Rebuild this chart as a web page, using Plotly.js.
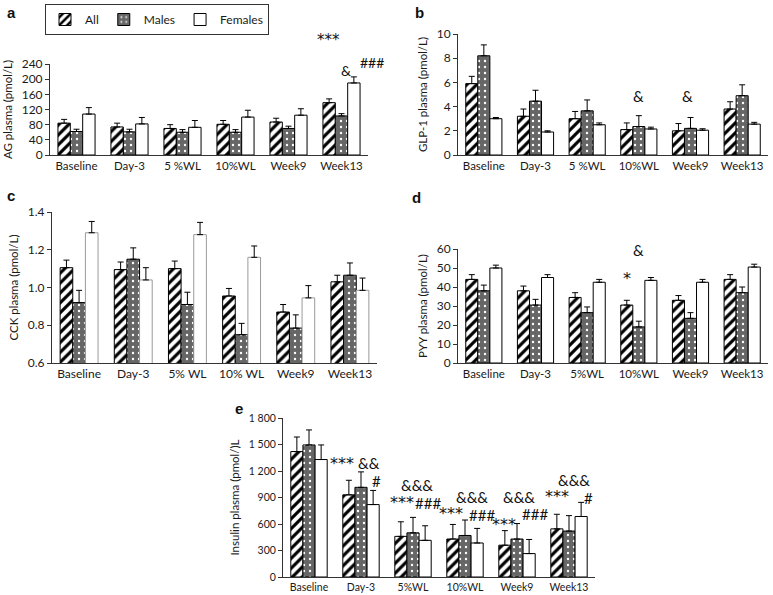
<!DOCTYPE html>
<html><head><meta charset="utf-8">
<script src="https://cdn.plot.ly/plotly-3.0.1.min.js"></script>
<style>body{margin:0;background:#fff}#chart{width:773px;height:595px}</style>
</head><body><div id="chart"></div>
<script>
// ---- data ----
const groups = ['All', 'Males', 'Females'];

const catsA = ['Baseline', 'Day-3', '5 %WL', '10%WL', 'Week9', 'Week13'];
const agAll = [84, 74, 70, 81, 87, 138];
const agAllErr = [10, 10, 10, 10, 10, 10];
const agMale = [62, 61, 60, 60, 70, 103];
const agMaleErr = [6, 7, 7, 7, 6, 6];
const agFem = [108, 82, 73, 100, 105, 190];
const agFemErr = [17, 17, 18, 18, 17, 16];

const catsB = ['Baseline', 'Day-3', '5 %WL', '10%WL', 'Week9', 'Week13'];
const glpAll = [5.9, 3.2, 3.0, 2.1, 2.0, 3.8];
const glpAllErr = [0.6, 0.6, 0.6, 0.55, 0.6, 0.6];
const glpMale = [8.2, 4.45, 3.65, 2.35, 2.2, 4.9];
const glpMaleErr = [0.9, 0.9, 0.9, 0.9, 0.9, 0.9];
const glpFem = [3.0, 1.9, 2.5, 2.15, 2.05, 2.55];
const glpFemErr = [0.1, 0.1, 0.15, 0.15, 0.12, 0.15];

const catsC = ['Baseline', 'Day-3', '5% WL', '10% WL', 'Week9', 'Week13'];
const cckAll = [1.105, 1.095, 1.10, 0.955, 0.87, 1.03];
const cckAllErr = [0.04, 0.04, 0.04, 0.04, 0.04, 0.035];
const cckMale = [0.92, 1.15, 0.91, 0.75, 0.785, 1.065];
const cckMaleErr = [0.065, 0.06, 0.065, 0.06, 0.07, 0.065];
const cckFem = [1.29, 1.04, 1.28, 1.16, 0.945, 0.985];
const cckFemErr = [0.06, 0.065, 0.065, 0.06, 0.065, 0.065];

const catsD = ['Baseline', 'Day-3', '5%WL', '10%WL', 'Week9', 'Week13'];
const pyyAll = [44, 38, 34.5, 30.5, 33, 44];
const pyyAllErr = [2.5, 2.5, 2.5, 2.5, 2.5, 2.5];
const pyyMale = [38, 30.5, 26.5, 19, 23.5, 37];
const pyyMaleErr = [3, 3, 3, 3, 3, 3];
const pyyFem = [50, 45, 42.5, 43.5, 42.5, 50.5];
const pyyFemErr = [1.5, 1.5, 1.5, 1.5, 1.5, 1.5];

const catsE = ['Baseline', 'Day-3', '5%WL', '10%WL', 'Week9', 'Week13'];
const insAll = [1420, 930, 460, 430, 360, 545];
const insAllErr = [165, 165, 165, 165, 165, 165];
const insMale = [1495, 1015, 500, 470, 430, 520];
const insMaleErr = [170, 175, 175, 175, 175, 175];
const insFem = [1330, 820, 415, 385, 265, 685];
const insFemErr = [165, 160, 165, 165, 160, 160];
const insTickVals = [0, 300, 600, 900, 1200, 1500, 1800];
const insTickText = ['0', '300', '600', '900', '1 200', '1 500', '1 800'];

// significance marks: [text, category position, y value]
const marksA = [['***', 4.75, 303], ['&', 5.09, 224], ['###', 5.57, 245]];
const marksB = [['&', 3.0, 4.9], ['&', 3.94, 4.9]];
const marksD = [['&', 3.0, 59.5], ['*', 2.77, 44.5]];
const marksE = [
  ['***', 0.64, 1290], ['&&', 1.15, 1290], ['#', 1.29, 1087],
  ['&&&', 2.08, 1041], ['***', 1.79, 838], ['###', 2.28, 838],
  ['&&&', 3.13, 905], ['***', 2.73, 722], ['###', 3.33, 700],
  ['&&&', 4.04, 905], ['***', 3.75, 589], ['###', 4.35, 713],
  ['&&&', 5.10, 1098], ['***', 4.77, 906], ['#', 5.38, 894]
];

// ---- styles ----
const FONT = 'Lato, "Open Sans", sans-serif';
const TXT = '#1a1a1a';
const styles = [
  {color: 'white', line: {color: 'black', width: 1},
   pattern: {shape: '/', fgcolor: 'black', bgcolor: 'white', size: 7, solidity: 0.45}},
  {color: '#666666', line: {color: 'black', width: 1},
   pattern: {shape: '.', fgcolor: 'white', bgcolor: '#666666', size: 6, solidity: 0.12}},
  {color: 'white', line: {color: 'black', width: 1}}
];

const traces = [];
function addPanel(cats, series, errs, xa, ya, legend, femLine) {
  series.forEach((vals, i) => {
    const m = JSON.parse(JSON.stringify(styles[i]));
    if (i === 2 && femLine) m.line = femLine;
    traces.push({
      type: 'bar', x: cats, y: vals, name: groups[i], marker: m,
      xaxis: xa, yaxis: ya, showlegend: legend, legendgroup: groups[i],
      error_y: {type: 'data', array: errs[i], arrayminus: errs[i].map(() => 0),
                symmetric: false, color: 'black', thickness: 1, width: 3}
    });
  });
}
addPanel(catsA, [agAll, agMale, agFem], [agAllErr, agMaleErr, agFemErr], 'x', 'y', true);
addPanel(catsB, [glpAll, glpMale, glpFem], [glpAllErr, glpMaleErr, glpFemErr], 'x2', 'y2', false);
addPanel(catsC, [cckAll, cckMale, cckFem], [cckAllErr, cckMaleErr, cckFemErr], 'x3', 'y3', false, {color: '#9a9a9a', width: 1});
addPanel(catsD, [pyyAll, pyyMale, pyyFem], [pyyAllErr, pyyMaleErr, pyyFemErr], 'x4', 'y4', false);
addPanel(catsE, [insAll, insMale, insFem], [insAllErr, insMaleErr, insFemErr], 'x5', 'y5', false);

const W = 773, H = 595;
const dx = (a, b) => [a / W, b / W];
const dy = (top, bot) => [1 - bot / H, 1 - top / H];

function xax(dom, anchor, size) {
  return {domain: dom, anchor: anchor, showline: true, linecolor: '#333', linewidth: 1,
          ticks: '', showgrid: false, zeroline: false, fixedrange: true,
          tickfont: {family: FONT, size: size, color: TXT}};
}
function yax(dom, anchor, range, dtick, title, size, tsize) {
  return {domain: dom, anchor: anchor, range: range, dtick: dtick, showline: true,
          linecolor: '#333', linewidth: 1, ticks: 'outside', ticklen: 4, tickcolor: '#333',
          showgrid: false, zeroline: false,
          tickfont: {family: FONT, size: size, color: TXT},
          title: {text: title, font: {family: FONT, size: tsize, color: TXT}, standoff: 6}};
}

const annotations = [];
// marks are placed in axis-domain fractions so they may sit above the plotted range
function addMarks(marks, ax, ncat, range, size) {
  marks.forEach(m => {
    const star = m[0].indexOf('*') >= 0;
    annotations.push({text: m[0],
      x: (m[1] + 0.5) / ncat, y: (m[2] - range[0]) / (range[1] - range[0]),
      xref: 'x' + ax + ' domain', yref: 'y' + ax + ' domain',
      xanchor: 'center', yanchor: 'middle',
      showarrow: false, font: {family: star ? '"DejaVu Sans"' : FONT, size: star ? size + 1 : size, color: '#111'}});
  });
}
addMarks(marksA, '', 6, [0, 240], 14);
addMarks(marksB, '2', 6, [0, 10], 15);
addMarks(marksD, '4', 6, [0, 60], 15);
addMarks(marksE, '5', 6, [0, 1800], 15);
[['a', 5, 12], ['b', 413, 12], ['c', 5, 196], ['d', 410, 198], ['e', 233, 408]].forEach(p =>
  annotations.push({text: '<b>' + p[0] + '</b>', x: p[1] / W, y: 1 - p[2] / H, xref: 'paper', yref: 'paper',
    xanchor: 'left', yanchor: 'middle', showarrow: false, font: {family: 'Liberation Sans, Arial', size: 15, color: '#111'}}));

const layout = {
  width: W, height: H, margin: {l: 0, r: 0, t: 0, b: 0},
  paper_bgcolor: 'white', plot_bgcolor: 'white',
  barmode: 'group', bargap: 0.3, bargroupgap: 0,
  font: {family: FONT, color: TXT},
  showlegend: true,
  legend: {orientation: 'h', x: 45 / W, y: 1 - 4 / H, xanchor: 'left', yanchor: 'top',
           bordercolor: '#333', borderwidth: 1, font: {family: FONT, size: 12, color: TXT},
           itemwidth: 30, tracegroupgap: 0},
  xaxis: xax(dx(50, 368), 'y', 11.5),
  yaxis: yax(dy(64, 155), 'x', [0, 240], 40, 'AG plasma (pmol/L)', 12, 11.5),
  xaxis2: xax(dx(458, 768), 'y2', 11.5),
  yaxis2: yax(dy(34, 155), 'x2', [0, 10], 2, 'GLP-1 plasma (pmol/L)', 12, 11.5),
  xaxis3: xax(dx(52, 377), 'y3', 12),
  yaxis3: yax(dy(212, 363), 'x3', [0.6, 1.4], 0.2, 'CCK plasma (pmol/L)', 12, 11.5),
  xaxis4: xax(dx(458, 768), 'y4', 11.5),
  yaxis4: yax(dy(249, 363), 'x4', [0, 60], 10, 'PYY plasma (pmol/L)', 12, 11.5),
  xaxis5: xax(dx(283, 595), 'y5', 10.5),
  yaxis5: Object.assign(yax(dy(418, 577), 'x5', [0, 1800], 300, 'Insulin plasma (pmol/)L', 10.5, 11.5),
                        {tickvals: insTickVals, ticktext: insTickText, tickmode: 'array'}),
  annotations: annotations
};
layout.yaxis3.tickformat = '.1f';

Plotly.newPlot('chart', traces, layout, {displayModeBar: false, staticPlot: true});
</script></body></html>
